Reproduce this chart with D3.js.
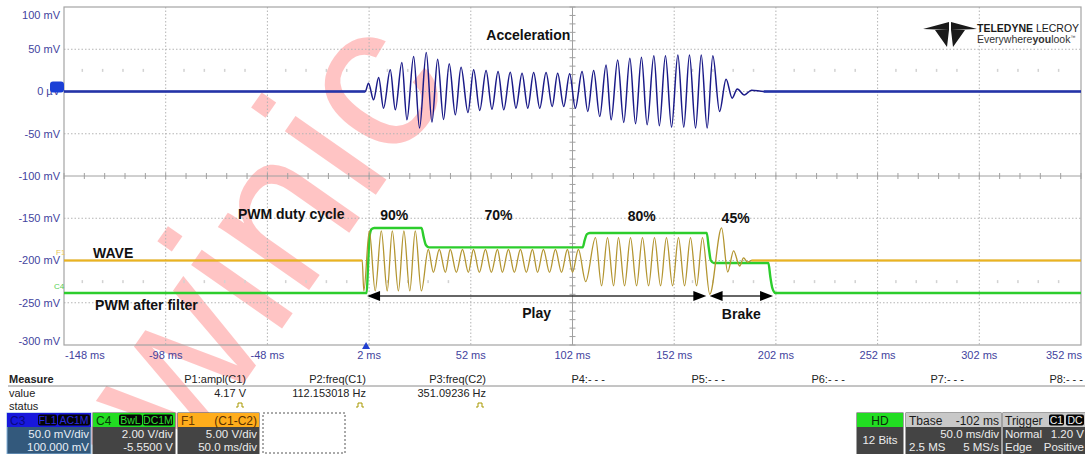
<!DOCTYPE html>
<html>
<head>
<meta charset="utf-8">
<script src="https://cdn.jsdelivr.net/npm/d3@7"></script>
<style>
  body { margin: 0; background: #fff; }
  svg { display: block; font-family: 'Liberation Sans', Arial, sans-serif; }
</style>
</head>
<body>
<svg id="scope" width="1085" height="454"></svg>
<script>
// values (time in ms, level in mV)
const timeTicks = [-148, -98, -48, 2, 52, 102, 152, 202, 252, 302, 352];
const voltTicks = [100, 50, 0, -50, -100, -150, -200, -250, -300];
const voltLabels = ['100 mV', '50 mV', '0 µV', '-50 mV', '-100 mV', '-150 mV', '-200 mV', '-250 mV', '-300 mV'];

// C3 acceleration: peaks and troughs of each half cycle
const acceleration = [
  [-148, 0], [0.1, 0], [1.7, 9.9], [4.2, -9.9], [6.7, 16.5], [9.1, -19.7], [12.4, 25.6], [14.9, -21.7],
  [18.1, 34.3], [20.6, -33.5], [23.9, 41.4], [26.8, -43.3], [30.1, 46.1], [32.9, -36.2], [35.7, 38.2],
  [38.6, -33.1], [41.4, 32.7], [44.4, -27.6], [47.2, 28.8], [50.6, -24.8], [53.4, 25.6], [56.4, -22.5],
  [59.5, 24.8], [62.4, -20.9], [65.4, 23.6], [68.2, -21.7], [71.4, 22.9], [74.2, -19.7], [77.2, 21.7],
  [80.0, -19.7], [82.9, 22.5], [85.9, -19.7], [89.0, 22.5], [92.0, -17.7], [94.7, 21.7], [97.7, -17.7],
  [100.6, 20.9], [103.4, -19.7], [106.7, 23.6], [109.5, -23.6], [112.4, 24.8], [115.4, -29.6],
  [118.5, 31.5], [121.0, -33.5], [124.2, 37.4], [127.2, -36.6], [130.2, 39.4], [133.0, -38.2],
  [135.9, 40.6], [138.7, -39.4], [142.0, 42.2], [144.7, -40.6], [147.7, 42.2], [150.7, -42.2],
  [153.8, 43.3], [156.7, -42.2], [159.5, 43.3], [162.5, -43.3], [165.3, 43.3], [168.2, -43.3],
  [171.0, 42.2], [174.3, -23.6], [177.5, 14.6], [180.5, -7.9], [183.0, 3], [186.5, -4], [190, 1.5],
  [196, 0], [352, 0]
];

// C4 PWM after filter
const pwmFiltered = [
  [-148, -238.5], [0.8, -238.5], [1.5, -205], [2.2, -172], [3.2, -163], [4.5, -161.5], [27.8, -161.5],
  [28.8, -172], [30.0, -182], [31.5, -184.5], [107.0, -184.5], [108.0, -176], [109.0, -169],
  [110.5, -167.5], [168.0, -167.5], [169.0, -185], [170.0, -200], [171.5, -203], [198.3, -203],
  [199.3, -220], [200.3, -233], [201.8, -238.5], [352, -238.5]
];

// F1 WAVE (C1-C2)
const wave = [
  [-148, -200], [-1.4, -200], [-0.6, -236], [2.1, -165], [5.0, -236], [8.0, -165], [10.9, -236],
  [13.4, -165], [16.4, -236], [19.1, -165], [22.0, -236], [24.7, -165], [27.7, -236],
  [31.1, -187], [33.6, -214], [36.5, -187], [39.5, -214], [41.9, -187], [44.9, -214], [47.9, -187],
  [50.8, -214], [53.3, -187], [56.2, -214], [59.2, -187], [62.1, -214], [65.1, -187], [67.5, -214],
  [70.5, -187], [73.4, -214], [76.4, -187], [79.3, -214], [82.3, -187], [84.8, -214], [87.7, -187],
  [90.7, -214], [93.6, -187], [96.6, -214], [99.5, -187], [102.0, -214], [104.9, -187],
  [108.5, -225], [113.3, -173], [116.3, -230], [119.2, -173], [122.2, -230], [124.6, -173],
  [127.6, -230], [130.5, -173], [133.5, -230], [136.4, -173], [139.4, -230], [142.3, -173],
  [145.3, -230], [148.2, -173], [151.2, -230], [154.1, -173], [157.1, -230], [160.0, -173],
  [163.0, -230], [165.9, -173], [169.5, -240], [175.3, -161.5], [178.3, -213.6], [181.2, -188.7],
  [184.2, -206.5], [186.1, -197], [188.1, -202], [190, -200], [352, -200]
];

const notes = [
  { t: 80.3, v: 67, text: 'Acceleration', anchor: 'middle' },
  { t: -36.3, v: -145, text: 'PWM duty cycle', anchor: 'middle' },
  { t: 14.4, v: -146, text: '90%', anchor: 'middle' },
  { t: 65.6, v: -146, text: '70%', anchor: 'middle' },
  { t: 136, v: -147, text: '80%', anchor: 'middle' },
  { t: 182.2, v: -149.7, text: '45%', anchor: 'middle' },
  { t: -133.7, v: -191, text: 'WAVE', anchor: 'start' },
  { t: -132.7, v: -252.6, text: 'PWM after filter', anchor: 'start' }
];

const spans = [
  { from: 1.0, to: 167.8, v: -242, text: 'Play', tv: -262 },
  { from: 169.4, to: 200.6, v: -242, text: 'Brake', tv: -263 }
];

const measureNames = ['P1:ampl(C1)', 'P2:freq(C1)', 'P3:freq(C2)', 'P4:- - -', 'P5:- - -', 'P6:- - -', 'P7:- - -', 'P8:- - -'];
const measureValues = ['4.17 V', '112.153018 Hz', '351.09236 Hz'];
const measureRight = [246, 366, 486, 605, 725, 845, 964, 1083];

const svg = d3.select('#scope');
const plot = { left: 64, right: 1081, top: 7, bottom: 345 };

const x = d3.scaleLinear().domain([-148, 352]).range([plot.left, plot.right]);
const y = d3.scaleLinear().domain([-300, 100]).range([plot.bottom, plot.top]);

// watermark behind everything
svg.append('text')
  .attr('transform', 'translate(120,560) rotate(-55)')
  .attr('font-size', 210)
  .attr('fill', '#ff4040')
  .attr('opacity', 0.3)
  .text('awinic');

// grid
const grid = svg.append('g');

grid.selectAll('.vgrid')
  .data(timeTicks.slice(1, -1))
  .enter()
  .append('line')
  .attr('x1', (d) => x(d))
  .attr('x2', (d) => x(d))
  .attr('y1', plot.top)
  .attr('y2', plot.bottom)
  .attr('stroke', (d) => (d === 102 ? '#a0a0a0' : '#b4b4b4'))
  .attr('stroke-dasharray', (d) => (d === 102 ? null : '1.5,2'));

grid.selectAll('.hgrid')
  .data(voltTicks.slice(1, -1))
  .enter()
  .append('line')
  .attr('x1', plot.left)
  .attr('x2', plot.right)
  .attr('y1', (d) => y(d))
  .attr('y2', (d) => y(d))
  .attr('stroke', (d) => (d === -100 ? '#a0a0a0' : '#b4b4b4'))
  .attr('stroke-dasharray', (d) => (d === -100 ? null : '1.5,2'));

// small ticks on the centre cross
grid.selectAll('.xtick')
  .data(d3.range(-148, 352.1, 10))
  .enter()
  .append('line')
  .attr('x1', (d) => x(d))
  .attr('x2', (d) => x(d))
  .attr('y1', y(-100) - 3)
  .attr('y2', y(-100) + 3)
  .attr('stroke', '#a0a0a0');

grid.selectAll('.ytick')
  .data(d3.range(-300, 100.1, 10))
  .enter()
  .append('line')
  .attr('x1', x(102) - 3)
  .attr('x2', x(102) + 3)
  .attr('y1', (d) => y(d))
  .attr('y2', (d) => y(d))
  .attr('stroke', '#a0a0a0');

// faint sub-division marks
const marks = [];
[25, -225].forEach((v) => {
  timeTicks.slice(0, -1).forEach((t) => {
    if (t === 102 || t === 52) return;
    [9, 19, 29, 39].forEach((dt) => marks.push([t + dt, v]));
  });
});
grid.selectAll('.mark')
  .data(marks)
  .enter()
  .append('rect')
  .attr('x', (d) => x(d[0]) - 0.75)
  .attr('y', (d) => y(d[1]) - 1.5)
  .attr('width', 1.5)
  .attr('height', 3)
  .attr('fill', '#d2d2d2');

svg.append('rect')
  .attr('x', plot.left)
  .attr('y', plot.top)
  .attr('width', plot.right - plot.left)
  .attr('height', plot.bottom - plot.top)
  .attr('fill', 'none')
  .attr('stroke', '#a4a4a4')
  .attr('stroke-width', 1.2);

// axis labels
const labelColor = '#43439e';
svg.selectAll('.ylab')
  .data(voltTicks)
  .enter()
  .append('text')
  .attr('x', 60)
  .attr('y', (d, i) => (i === 0 ? y(d) + 8 : i === voltTicks.length - 1 ? y(d) - 4 : y(d)))
  .attr('dy', '0.35em')
  .attr('text-anchor', 'end')
  .attr('font-size', 11)
  .attr('fill', labelColor)
  .text((d, i) => voltLabels[i]);

svg.selectAll('.xlab')
  .data(timeTicks)
  .enter()
  .append('text')
  .attr('x', (d, i) => (i === 0 ? x(d) + 1 : i === timeTicks.length - 1 ? x(d) + 1 : x(d)))
  .attr('y', 355)
  .attr('dy', '0.35em')
  .attr('text-anchor', (d, i) => (i === 0 ? 'start' : i === timeTicks.length - 1 ? 'end' : 'middle'))
  .attr('font-size', 11)
  .attr('fill', labelColor)
  .text((d) => `${d} ms`);

// traces
const line = d3.line()
  .x((d) => x(d[0]))
  .y((d) => y(d[1]))
  .curve(d3.curveMonotoneX);

const traces = svg.append('g').attr('fill', 'none');

traces.append('path')
  .attr('d', line(acceleration))
  .attr('stroke', '#1a1a88')
  .attr('stroke-width', 1.5);

[acceleration.slice(0, 2), acceleration.slice(-2)].forEach((seg) => {
  traces.append('path')
    .attr('d', line(seg))
    .attr('stroke', '#2434a8')
    .attr('stroke-width', 2.6);
});

traces.append('path')
  .attr('d', line(pwmFiltered))
  .attr('stroke', '#2ccd2c')
  .attr('stroke-width', 2.4);

traces.append('path')
  .attr('d', line(wave))
  .attr('stroke', '#b39530')
  .attr('stroke-width', 1.3);

[wave.slice(0, 2), wave.slice(-2)].forEach((seg) => {
  traces.append('path')
    .attr('d', line(seg))
    .attr('stroke', '#ebb320')
    .attr('stroke-width', 2);
});

// channel markers on the left edge
svg.append('rect')
  .attr('x', 50)
  .attr('y', y(0) - 10)
  .attr('width', 14)
  .attr('height', 11)
  .attr('rx', 3)
  .attr('fill', '#1a3fd6');

svg.append('text')
  .attr('x', 56)
  .attr('y', y(-200) - 6)
  .attr('font-size', 8)
  .attr('fill', '#e6c65a')
  .text('F1');

svg.append('text')
  .attr('x', 54)
  .attr('y', y(-238.5) - 4)
  .attr('font-size', 8)
  .attr('fill', '#55cf55')
  .text('C4');

// trigger position marker
svg.append('path')
  .attr('d', `M${x(0.5)},${plot.bottom - 3} l-4,7 h8 z`)
  .attr('fill', '#2040d0');

// annotations
svg.selectAll('.note')
  .data(notes)
  .enter()
  .append('text')
  .attr('x', (d) => x(d.t))
  .attr('y', (d) => y(d.v))
  .attr('dy', '0.35em')
  .attr('text-anchor', (d) => d.anchor)
  .attr('font-size', 14)
  .attr('font-weight', 'bold')
  .attr('fill', '#111')
  .text((d) => d.text);

spans.forEach((s) => {
  const x0 = x(s.from);
  const x1 = x(s.to);
  const yy = y(s.v);
  svg.append('line')
    .attr('x1', x0 + 10).attr('x2', x1 - 10)
    .attr('y1', yy).attr('y2', yy)
    .attr('stroke', '#333')
    .attr('stroke-width', 1.4);
  svg.append('path')
    .attr('d', `M${x0},${yy} l13,-5 v10 z M${x1},${yy} l-13,-5 v10 z`)
    .attr('fill', '#000');
  svg.append('text')
    .attr('x', (x0 + x1) / 2)
    .attr('y', y(s.tv))
    .attr('dy', '0.35em')
    .attr('text-anchor', 'middle')
    .attr('font-size', 14)
    .attr('font-weight', 'bold')
    .attr('fill', '#111')
    .text(s.text);
});

// logo
const logo = svg.append('g').attr('fill', '#1a1a1a');
logo.append('path').attr('d', 'M923,29 L949,22 L949,30 Z M977,29 L951,22 L951,30 Z M935,30 L949,30 L947,47 Z M951,30 L965,30 L953,47 Z');
const brand = logo.append('text').attr('x', 977).attr('y', 32).attr('font-size', 10.5);
brand.append('tspan').attr('font-weight', 'bold').text('TELEDYNE');
brand.append('tspan').text(' LECROY');
const slogan = logo.append('text').attr('x', 977).attr('y', 43).attr('font-size', 10.5).attr('fill', '#333');
slogan.append('tspan').text('Everywhere');
slogan.append('tspan').attr('font-weight', 'bold').text('you');
slogan.append('tspan').text('look');
slogan.append('tspan').attr('font-size', 5).attr('dy', -4).text('™');

// measure table
const table = svg.append('g').attr('font-size', 11).attr('fill', '#222');
table.append('text').attr('x', 9).attr('y', 383).attr('font-weight', 'bold').text('Measure');
table.append('line')
  .attr('x1', 8).attr('x2', 1085)
  .attr('y1', 386).attr('y2', 386)
  .attr('stroke', '#8a8a8a');
table.append('text').attr('x', 9).attr('y', 397).text('value');
table.append('text').attr('x', 9).attr('y', 410).text('status');

table.selectAll('.mname')
  .data(measureNames)
  .enter()
  .append('text')
  .attr('x', (d, i) => measureRight[i])
  .attr('y', 383)
  .attr('text-anchor', 'end')
  .text((d) => d);

table.selectAll('.mval')
  .data(measureValues)
  .enter()
  .append('text')
  .attr('x', (d, i) => measureRight[i])
  .attr('y', 397)
  .attr('text-anchor', 'end')
  .text((d) => d);

table.selectAll('.mstat')
  .data(measureValues)
  .enter()
  .append('path')
  .attr('d', (d, i) => `M${measureRight[i] - 10},${407} h2 v-4 h4 v4 h2`)
  .attr('fill', 'none')
  .attr('stroke', '#a89800')
  .attr('stroke-width', 1);

// channel descriptor boxes
const boxTop = 413;
const headH = 14;

function descriptor(x0, w, head, body, border) {
  const g = svg.append('g');
  g.append('rect').attr('x', x0).attr('y', boxTop).attr('width', w).attr('height', 454 - boxTop)
    .attr('fill', body).attr('stroke', border).attr('stroke-width', 1);
  g.append('rect').attr('x', x0).attr('y', boxTop).attr('width', w).attr('height', headH)
    .attr('fill', head);
  return g;
}

function txt(g, xx, yy, s, anchor, color, size, weight) {
  g.append('text')
    .attr('x', xx).attr('y', yy)
    .attr('text-anchor', anchor)
    .attr('font-size', size || 11.5)
    .attr('font-weight', weight || 'normal')
    .attr('fill', color)
    .text(s);
}

function tag(g, xx, w, s, color) {
  g.append('rect').attr('x', xx).attr('y', boxTop + 1.5).attr('width', w).attr('height', headH - 3)
    .attr('rx', 2).attr('fill', '#050505');
  txt(g, xx + w / 2, boxTop + 11, s, 'middle', color, 10.5);
}

const c3 = descriptor(7, 84, '#1818dc', '#33597c', '#86b4dc');
txt(c3, 10, boxTop + 11.5, 'C3', 'start', '#0a0a80', 12);
tag(c3, 38, 19, 'FL1', '#2a2ae0');
tag(c3, 58, 32, 'AC1M', '#2a2ae0');
txt(c3, 89, 438, '50.0 mV/div', 'end', '#e8eef6');
txt(c3, 89, 451, '100.000 mV', 'end', '#e8eef6');

const c4 = descriptor(93, 82, '#22dd22', '#444', '#444');
txt(c4, 96, boxTop + 11.5, 'C4', 'start', '#0a3a0a', 12);
tag(c4, 119, 23, 'BwL', '#30e030');
tag(c4, 143, 30, 'DC1M', '#30e030');
txt(c4, 173, 438, '2.00 V/div', 'end', '#ececec');
txt(c4, 173, 451, '-5.5500 V', 'end', '#ececec');

const f1 = descriptor(178, 81, '#ffad1c', '#444', '#444');
txt(f1, 181, boxTop + 11.5, 'F1', 'start', '#6a3a00', 12);
txt(f1, 257, boxTop + 11.5, '(C1-C2)', 'end', '#5a3000', 12);
txt(f1, 257, 438, '5.00 V/div', 'end', '#ececec');
txt(f1, 257, 451, '50.0 ms/div', 'end', '#ececec');

svg.append('rect')
  .attr('x', 263).attr('y', boxTop).attr('width', 82).attr('height', 40)
  .attr('fill', 'none').attr('stroke', '#555').attr('stroke-dasharray', '2,2');

const hd = descriptor(857, 46, '#22dd22', '#444', '#444');
txt(hd, 880, boxTop + 11.5, 'HD', 'middle', '#0a2a0a', 12);
txt(hd, 880, 444, '12 Bits', 'middle', '#ececec');

const tb = descriptor(906, 95, '#c8c8c8', '#444', '#444');
txt(tb, 909, boxTop + 11.5, 'Tbase', 'start', '#1a1a1a', 12);
txt(tb, 999, boxTop + 11.5, '-102 ms', 'end', '#1a1a1a', 12);
txt(tb, 999, 438, '50.0 ms/div', 'end', '#ececec');
txt(tb, 909, 451, '2.5 MS', 'start', '#ececec');
txt(tb, 999, 451, '5 MS/s', 'end', '#ececec');

const trig = descriptor(1003, 82, '#c8c8c8', '#444', '#444');
txt(trig, 1005, boxTop + 11.5, 'Trigger', 'start', '#1a1a1a', 12);
tag(trig, 1049, 15, 'C1', '#f0f0f0');
tag(trig, 1066, 18, 'DC', '#f0f0f0');
txt(trig, 1005, 438, 'Normal', 'start', '#ececec');
txt(trig, 1084, 438, '1.20 V', 'end', '#ececec');
txt(trig, 1005, 451, 'Edge', 'start', '#ececec');
txt(trig, 1084, 451, 'Positive', 'end', '#ececec');
</script>
</body>
</html>
